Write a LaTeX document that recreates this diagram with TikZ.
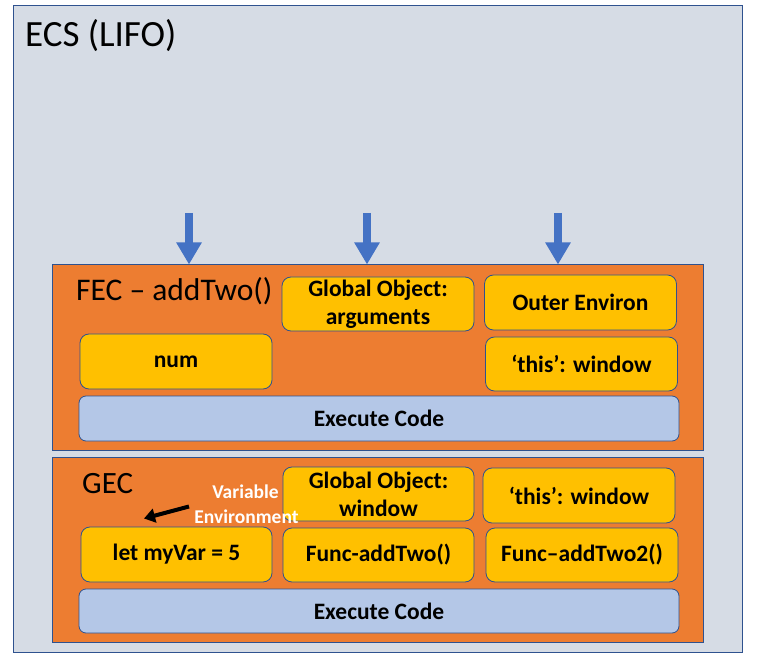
\documentclass[tikz,border=0pt]{standalone}
\usepackage{fontspec}
\setmainfont{Carlito}
\usetikzlibrary{arrows.meta}
\definecolor{bgc}{HTML}{D6DCE5}
\definecolor{bord}{HTML}{2F528F}
\definecolor{orng}{HTML}{ED7D31}
\definecolor{gold}{HTML}{FFC000}
\definecolor{lblue}{HTML}{B4C7E7}
\definecolor{arrowblue}{HTML}{4472C4}
\begin{document}
\begin{tikzpicture}[x=1pt,y=-1pt,
  panel/.style={draw=bord, line width=1pt, inner sep=0pt, rectangle},
  gbox/.style={draw=bord, line width=0.8pt, fill=gold, rounded corners=9pt, inner sep=0pt,
     minimum width=192pt, minimum height=54pt, align=center,
     font=\bfseries\fontsize{23.5}{28}\selectfont},
  ebox/.style={draw=bord, line width=0.8pt, fill=lblue, rounded corners=7pt, inner sep=0pt,
     minimum width=600pt, minimum height=44pt, align=center,
     font=\bfseries\fontsize{23.5}{28}\selectfont},
  ttl/.style={anchor=base west, inner sep=0pt, font=\fontsize{31}{37}\selectfont},
  barrow/.style={arrowblue, line width=8pt, -{Triangle[width=24pt,length=22pt]}},
  karrow/.style={black, line width=4pt, -{Triangle[width=14pt,length=11pt]}},
  vtext/.style={anchor=base, inner sep=0pt, text=white, font=\bfseries\fontsize{19.5}{25}\selectfont}
]
\useasboundingbox (0,0) rectangle (758,660);
\fill[white] (0,0) rectangle (758,660);
% outer ECS
\node[panel, fill=bgc, minimum width=729pt, minimum height=646pt] (ecs) at (377.5,329) {};
\node[ttl, font=\fontsize{37}{44}\selectfont] (ecst) at (25,47) {ECS (LIFO)};
% FEC
\node[panel, fill=orng, minimum width=651pt, minimum height=185pt] (fec) at (377.5,357.5) {};
\node[ttl, font=\fontsize{31.5}{37}\selectfont] (fect) at (76,301) {FEC – addTwo()};
\node[gbox] (farg) at (378,304) {Global Object:\\arguments};
\node[gbox, minimum height=55pt] (fout) at (580.5,302.5) {Outer Environ};
\node[gbox, minimum height=55pt] (fnum) at (176,361.5) {num};
\node[gbox] (fthis) at (581.5,364) {‘this’: window};
\node[ebox, minimum height=45pt] (fexec) at (379,418.5) {Execute Code};
% GEC
\node[panel, fill=orng, minimum width=651pt, minimum height=185pt] (gec) at (377.5,549.5) {};
\node[ttl] (gect) at (82,493) {GEC};
\node[gbox, minimum width=191pt] (gwin) at (378.5,494) {Global Object:\\window};
\node[gbox, minimum height=55pt] (gthis) at (579,495.5) {‘this’: window};
\node[gbox, minimum width=191pt, minimum height=55pt] (gvar) at (176.5,554.5) {let myVar = 5};
\node[gbox, minimum width=191pt] (gadd) at (378.5,555) {Func-addTwo()};
\node[gbox] (gadd2) at (582,555) {Func–addTwo2()};
\node[ebox] (gexec) at (379,611) {Execute Code};
% Variable Environment label
\node[vtext] (ve1) at (245.5,498) {Variable};
\node[vtext] (ve2) at (246.5,523) {Environment};
\coordinate (ka) at (189,506.5);
\coordinate (kb) at (144,518.5);
\draw[karrow] (ka) -- (kb);
% blue arrows
\coordinate (b1s) at (189,213);
\coordinate (b2s) at (367,213);
\coordinate (b3s) at (558,213);
\draw[barrow] (b1s) -- (b1s |- fec.north);
\draw[barrow] (b2s) -- (b2s |- fec.north);
\draw[barrow] (b3s) -- (b3s |- fec.north);
\end{tikzpicture}
\end{document}
